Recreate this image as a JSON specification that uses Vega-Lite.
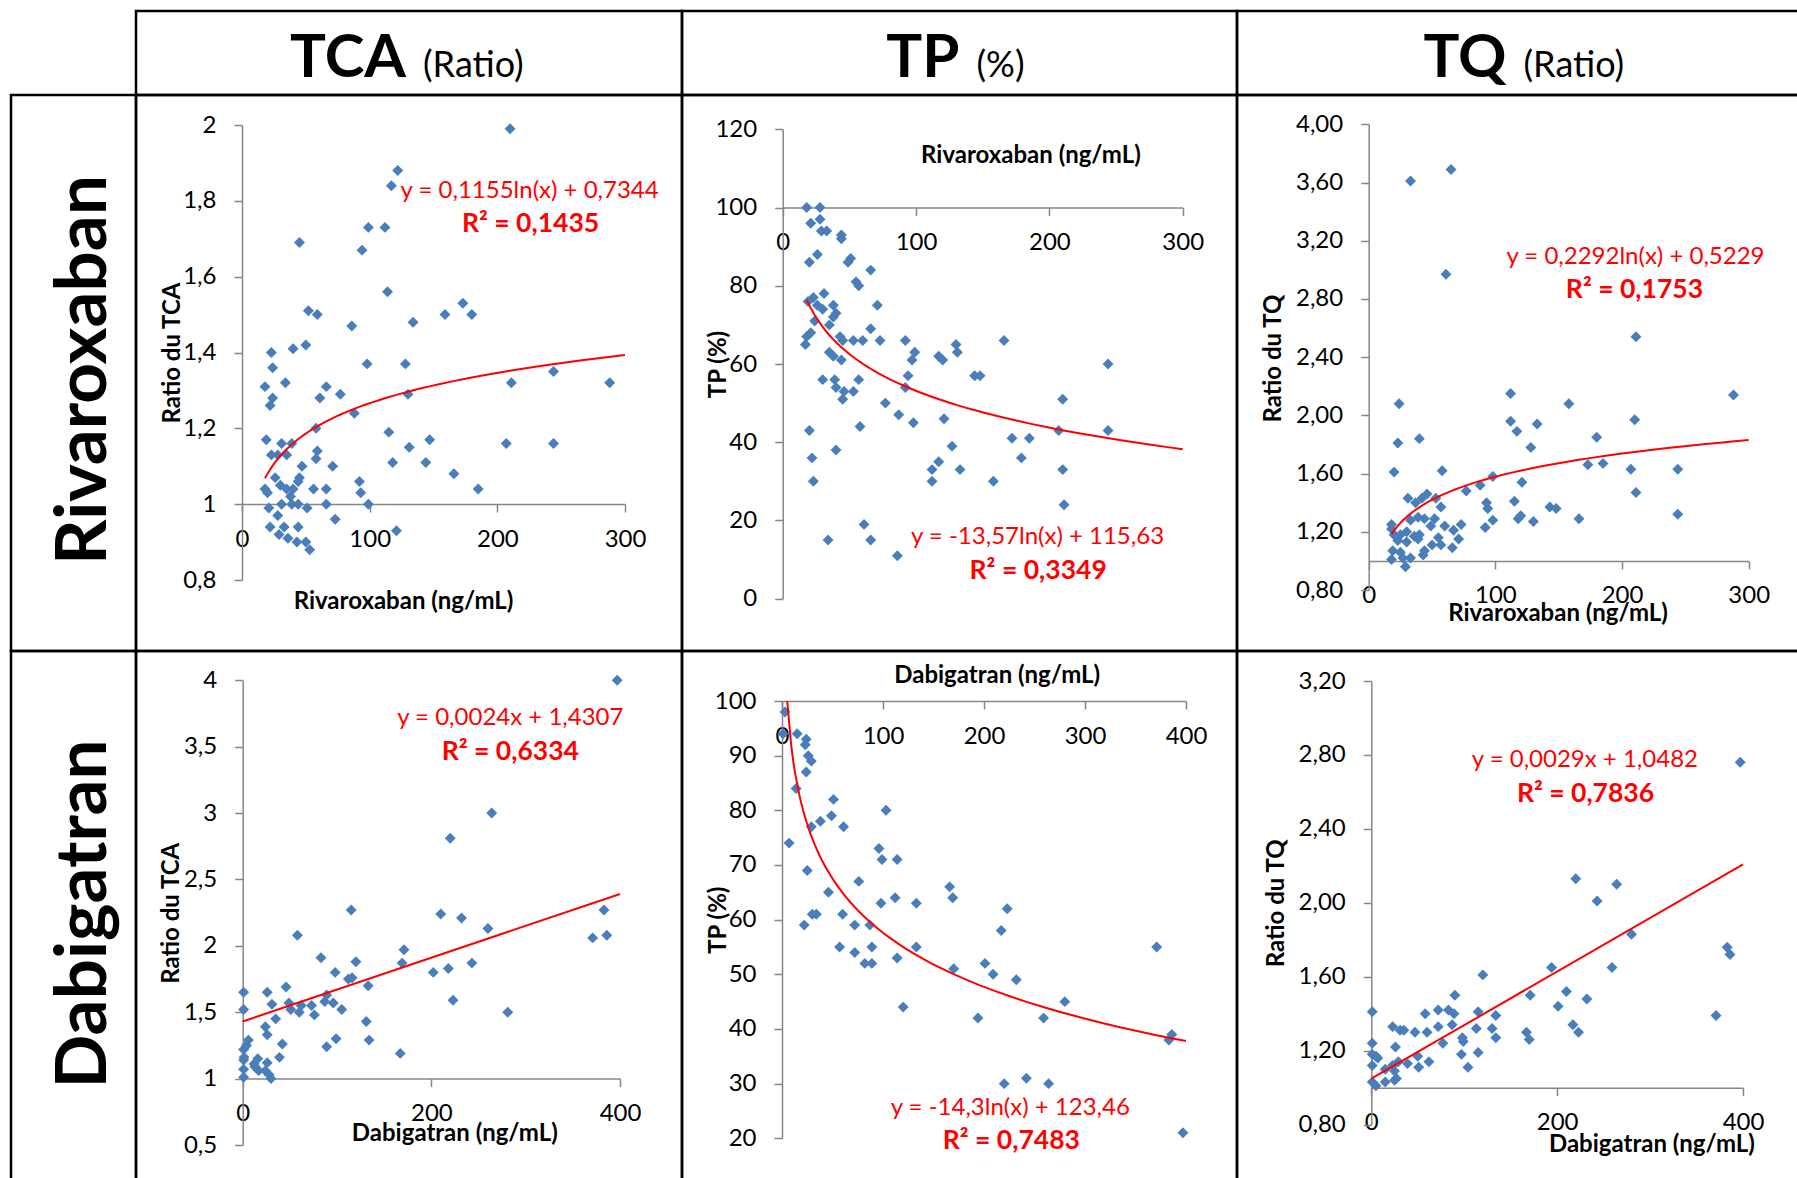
{
  "$schema": "https://vega.github.io/schema/vega-lite/v6.json",
  "background": "white",
  "padding": {"left": 9, "top": 9, "right": 0, "bottom": 0},
  "columns": 4,
  "spacing": 0,
  "bounds": "flush",
  "config": {
    "font": "Lato",
    "view": {"stroke": "#000000", "strokeWidth": 2.5},
    "axis": {
      "grid": false,
      "domainColor": "#868686", "domainWidth": 1.5,
      "tickColor": "#868686", "tickWidth": 1.5, "tickSize": 8,
      "labelFont": "Lato", "labelFontSize": 24, "labelColor": "#000000",
      "labelFlush": false, "labelOverlap": false,
      "titleFont": "Lato", "titleFontSize": 24, "titleFontWeight": "bold", "titleColor": "#000000",
      "titleAlign": "center", "titleBaseline": "middle"
    },
    "axisX": {"labelPadding": 27, "labelBaseline": "middle", "titleAngle": 0},
    "axisY": {"labelPadding": 18, "titleAngle": 270}
  },
  "datasets": {
    "riv_tca": [
      {"conc":210,"value":1.99},{"conc":122,"value":1.88},{"conc":117,"value":1.84},{"conc":99,"value":1.73},{"conc":112,"value":1.73},
      {"conc":45,"value":1.69},{"conc":94,"value":1.67},{"conc":114,"value":1.56},{"conc":173,"value":1.53},{"conc":52,"value":1.51},
      {"conc":59,"value":1.50},{"conc":159,"value":1.50},{"conc":180,"value":1.50},{"conc":86,"value":1.47},{"conc":134,"value":1.48},
      {"conc":40,"value":1.41},{"conc":50,"value":1.42},{"conc":23,"value":1.40},{"conc":24,"value":1.36},{"conc":98,"value":1.37},
      {"conc":128,"value":1.37},{"conc":244,"value":1.35},{"conc":18,"value":1.31},{"conc":34,"value":1.32},{"conc":66,"value":1.31},
      {"conc":77,"value":1.29},{"conc":130,"value":1.29},{"conc":211,"value":1.32},{"conc":288,"value":1.32},{"conc":24,"value":1.28},
      {"conc":22,"value":1.26},{"conc":61,"value":1.28},{"conc":88,"value":1.24},{"conc":58,"value":1.20},{"conc":19,"value":1.17},
      {"conc":31,"value":1.16},{"conc":39,"value":1.16},{"conc":115,"value":1.19},{"conc":147,"value":1.17},{"conc":207,"value":1.16},
      {"conc":244,"value":1.16},{"conc":23,"value":1.13},{"conc":28,"value":1.13},{"conc":35,"value":1.13},{"conc":59,"value":1.14},
      {"conc":58,"value":1.12},{"conc":131,"value":1.15},{"conc":47,"value":1.10},{"conc":71,"value":1.10},{"conc":118,"value":1.11},
      {"conc":144,"value":1.11},{"conc":166,"value":1.08},{"conc":26,"value":1.07},{"conc":45,"value":1.07},{"conc":44,"value":1.06},
      {"conc":92,"value":1.06},{"conc":30,"value":1.05},{"conc":18,"value":1.04},{"conc":20,"value":1.03},{"conc":35,"value":1.04},
      {"conc":40,"value":1.04},{"conc":56,"value":1.04},{"conc":66,"value":1.04},{"conc":185,"value":1.04},{"conc":93,"value":1.03},
      {"conc":38,"value":1.02},{"conc":39,"value":1.00},{"conc":31,"value":1.00},{"conc":44,"value":1.00},{"conc":66,"value":1.00},
      {"conc":99,"value":1.00},{"conc":21,"value":0.99},{"conc":51,"value":0.99},{"conc":28,"value":0.97},{"conc":73,"value":0.96},
      {"conc":22,"value":0.94},{"conc":33,"value":0.94},{"conc":44,"value":0.94},{"conc":29,"value":0.92},{"conc":36,"value":0.91},
      {"conc":43,"value":0.90},{"conc":50,"value":0.90},{"conc":53,"value":0.88},{"conc":121,"value":0.93}
    ],
    "riv_tp": [
      {"conc":18,"value":100},{"conc":28,"value":100},{"conc":21,"value":96},{"conc":28,"value":97},{"conc":29,"value":94},
      {"conc":33,"value":94},{"conc":44,"value":93},{"conc":44,"value":92},{"conc":26,"value":88},{"conc":20,"value":86},
      {"conc":49,"value":86},{"conc":51,"value":87},{"conc":55,"value":81},{"conc":57,"value":80},{"conc":66,"value":84},
      {"conc":71,"value":75},{"conc":31,"value":78},{"conc":23,"value":77},{"conc":19,"value":76},{"conc":26,"value":75},
      {"conc":30,"value":74},{"conc":38,"value":75},{"conc":40,"value":73},{"conc":38,"value":72},{"conc":24,"value":71},
      {"conc":35,"value":70},{"conc":66,"value":69},{"conc":18,"value":67},{"conc":21,"value":68},{"conc":17,"value":65},
      {"conc":43,"value":67},{"conc":45,"value":66},{"conc":53,"value":66},{"conc":60,"value":66},{"conc":73,"value":66},
      {"conc":92,"value":66},{"conc":166,"value":66},{"conc":35,"value":63},{"conc":38,"value":62},{"conc":44,"value":61},
      {"conc":30,"value":56},{"conc":39,"value":56},{"conc":57,"value":56},{"conc":40,"value":54},{"conc":46,"value":53},
      {"conc":53,"value":53},{"conc":45,"value":51},{"conc":77,"value":50},{"conc":87,"value":47},{"conc":98,"value":45},
      {"conc":58,"value":44},{"conc":20,"value":43},{"conc":92,"value":54},{"conc":94,"value":57},{"conc":97,"value":61},
      {"conc":99,"value":63},{"conc":117,"value":62},{"conc":120,"value":61},{"conc":130,"value":65},{"conc":131,"value":63},
      {"conc":144,"value":57},{"conc":148,"value":57},{"conc":121,"value":46},{"conc":127,"value":39},{"conc":112,"value":33},
      {"conc":117,"value":35},{"conc":112,"value":30},{"conc":133,"value":33},{"conc":158,"value":30},{"conc":172,"value":41},
      {"conc":185,"value":41},{"conc":179,"value":36},{"conc":207,"value":43},{"conc":210,"value":51},{"conc":210,"value":33},
      {"conc":211,"value":24},{"conc":244,"value":60},{"conc":244,"value":43},{"conc":22,"value":36},{"conc":23,"value":30},
      {"conc":40,"value":38},{"conc":34,"value":15},{"conc":61,"value":19},{"conc":66,"value":15},{"conc":86,"value":11}
    ],
    "riv_tq": [
      {"conc":33,"value":3.61},{"conc":65,"value":3.69},{"conc":61,"value":2.97},{"conc":211,"value":2.54},{"conc":112,"value":2.15},
      {"conc":288,"value":2.14},{"conc":158,"value":2.08},{"conc":24,"value":2.08},{"conc":112,"value":1.96},{"conc":210,"value":1.97},
      {"conc":117,"value":1.89},{"conc":133,"value":1.94},{"conc":40,"value":1.84},{"conc":23,"value":1.81},{"conc":180,"value":1.85},
      {"conc":128,"value":1.78},{"conc":173,"value":1.66},{"conc":185,"value":1.67},{"conc":207,"value":1.63},{"conc":244,"value":1.63},
      {"conc":20,"value":1.61},{"conc":58,"value":1.62},{"conc":98,"value":1.58},{"conc":121,"value":1.54},{"conc":88,"value":1.52},
      {"conc":77,"value":1.48},{"conc":211,"value":1.47},{"conc":115,"value":1.41},{"conc":93,"value":1.40},{"conc":94,"value":1.36},
      {"conc":143,"value":1.37},{"conc":148,"value":1.36},{"conc":166,"value":1.29},{"conc":244,"value":1.32},{"conc":130,"value":1.27},
      {"conc":120,"value":1.31},{"conc":118,"value":1.29},{"conc":98,"value":1.28},{"conc":92,"value":1.23},{"conc":31,"value":1.43},
      {"conc":37,"value":1.40},{"conc":42,"value":1.43},{"conc":46,"value":1.46},{"conc":53,"value":1.43},{"conc":57,"value":1.37},
      {"conc":33,"value":1.28},{"conc":39,"value":1.30},{"conc":44,"value":1.29},{"conc":52,"value":1.29},{"conc":49,"value":1.24},
      {"conc":60,"value":1.24},{"conc":73,"value":1.25},{"conc":18,"value":1.25},{"conc":20,"value":1.18},{"conc":25,"value":1.18},
      {"conc":30,"value":1.20},{"conc":36,"value":1.17},{"conc":40,"value":1.18},{"conc":67,"value":1.21},{"conc":71,"value":1.15},
      {"conc":55,"value":1.16},{"conc":23,"value":1.14},{"conc":30,"value":1.13},{"conc":39,"value":1.15},{"conc":50,"value":1.11},
      {"conc":57,"value":1.11},{"conc":19,"value":1.07},{"conc":25,"value":1.06},{"conc":44,"value":1.07},{"conc":66,"value":1.09},
      {"conc":18,"value":1.01},{"conc":27,"value":1.02},{"conc":33,"value":1.02},{"conc":43,"value":1.04},{"conc":29,"value":0.96},
      {"conc":18,"value":1.22}
    ],
    "dab_tca": [
      {"conc":397,"value":4.00},{"conc":264,"value":3.00},{"conc":220,"value":2.81},{"conc":115,"value":2.27},{"conc":210,"value":2.24},
      {"conc":232,"value":2.21},{"conc":260,"value":2.13},{"conc":383,"value":2.27},{"conc":371,"value":2.06},{"conc":386,"value":2.08},
      {"conc":58,"value":2.08},{"conc":83,"value":1.91},{"conc":171,"value":1.97},{"conc":120,"value":1.88},{"conc":169,"value":1.87},
      {"conc":243,"value":1.87},{"conc":98,"value":1.80},{"conc":202,"value":1.80},{"conc":218,"value":1.83},{"conc":112,"value":1.75},
      {"conc":116,"value":1.76},{"conc":133,"value":1.70},{"conc":46,"value":1.69},{"conc":1,"value":1.65},{"conc":26,"value":1.65},
      {"conc":89,"value":1.63},{"conc":49,"value":1.57},{"conc":31,"value":1.56},{"conc":62,"value":1.55},{"conc":87,"value":1.58},
      {"conc":96,"value":1.57},{"conc":73,"value":1.55},{"conc":1,"value":1.52},{"conc":51,"value":1.52},{"conc":60,"value":1.50},
      {"conc":76,"value":1.48},{"conc":105,"value":1.52},{"conc":223,"value":1.59},{"conc":281,"value":1.50},{"conc":35,"value":1.45},
      {"conc":131,"value":1.43},{"conc":24,"value":1.39},{"conc":26,"value":1.33},{"conc":6,"value":1.29},{"conc":99,"value":1.30},
      {"conc":134,"value":1.29},{"conc":42,"value":1.26},{"conc":89,"value":1.24},{"conc":167,"value":1.19},{"conc":1,"value":1.22},
      {"conc":4,"value":1.25},{"conc":1.5,"value":1.16},{"conc":1,"value":1.14},{"conc":39,"value":1.16},{"conc":16,"value":1.15},
      {"conc":13,"value":1.09},{"conc":26,"value":1.12},{"conc":1,"value":1.07},{"conc":17,"value":1.06},{"conc":24,"value":1.06},
      {"conc":30,"value":1.00},{"conc":1,"value":1.01},{"conc":28,"value":1.03},{"conc":12,"value":1.11}
    ],
    "dab_tp": [
      {"conc":3,"value":98},{"conc":1,"value":94},{"conc":15,"value":94},{"conc":24,"value":93},{"conc":23,"value":92},
      {"conc":26,"value":90},{"conc":29,"value":89},{"conc":24,"value":87},{"conc":14,"value":84},{"conc":51,"value":82},
      {"conc":103,"value":80},{"conc":49,"value":79},{"conc":38,"value":78},{"conc":29,"value":77},{"conc":61,"value":77},
      {"conc":7,"value":74},{"conc":96,"value":73},{"conc":99,"value":71},{"conc":114,"value":71},{"conc":25,"value":69},
      {"conc":76,"value":67},{"conc":166,"value":66},{"conc":46,"value":65},{"conc":112,"value":64},{"conc":169,"value":64},
      {"conc":98,"value":63},{"conc":133,"value":63},{"conc":223,"value":62},{"conc":30,"value":61},{"conc":34,"value":61},
      {"conc":60,"value":61},{"conc":22,"value":59},{"conc":72,"value":59},{"conc":87,"value":59},{"conc":217,"value":58},
      {"conc":57,"value":55},{"conc":89,"value":55},{"conc":133,"value":55},{"conc":371,"value":55},{"conc":72,"value":54},
      {"conc":114,"value":53},{"conc":82,"value":52},{"conc":89,"value":52},{"conc":201,"value":52},{"conc":170,"value":51},
      {"conc":209,"value":50},{"conc":232,"value":49},{"conc":120,"value":44},{"conc":280,"value":45},{"conc":194,"value":42},
      {"conc":259,"value":42},{"conc":386,"value":39},{"conc":383,"value":38},{"conc":220,"value":30},{"conc":242,"value":31},
      {"conc":264,"value":30},{"conc":397,"value":21}
    ],
    "dab_tq": [
      {"conc":397,"value":2.76},{"conc":220,"value":2.13},{"conc":264,"value":2.10},{"conc":243,"value":2.01},{"conc":280,"value":1.83},
      {"conc":383,"value":1.76},{"conc":386,"value":1.72},{"conc":371,"value":1.39},{"conc":194,"value":1.65},{"conc":259,"value":1.65},
      {"conc":120,"value":1.61},{"conc":210,"value":1.52},{"conc":171,"value":1.50},{"conc":232,"value":1.48},{"conc":201,"value":1.44},
      {"conc":90,"value":1.50},{"conc":1,"value":1.41},{"conc":58,"value":1.40},{"conc":72,"value":1.42},{"conc":83,"value":1.42},
      {"conc":89,"value":1.40},{"conc":115,"value":1.41},{"conc":134,"value":1.39},{"conc":217,"value":1.34},{"conc":223,"value":1.30},
      {"conc":23,"value":1.33},{"conc":31,"value":1.31},{"conc":35,"value":1.31},{"conc":47,"value":1.30},{"conc":60,"value":1.30},
      {"conc":72,"value":1.33},{"conc":87,"value":1.34},{"conc":113,"value":1.32},{"conc":130,"value":1.32},{"conc":134,"value":1.27},
      {"conc":167,"value":1.30},{"conc":170,"value":1.26},{"conc":98,"value":1.27},{"conc":99,"value":1.25},{"conc":77,"value":1.24},
      {"conc":1,"value":1.24},{"conc":26,"value":1.22},{"conc":1,"value":1.18},{"conc":7,"value":1.16},{"conc":1,"value":1.12},
      {"conc":50,"value":1.17},{"conc":62,"value":1.14},{"conc":97,"value":1.18},{"conc":115,"value":1.19},{"conc":104,"value":1.11},
      {"conc":29,"value":1.14},{"conc":39,"value":1.13},{"conc":51,"value":1.11},{"conc":15,"value":1.10},{"conc":25,"value":1.09},
      {"conc":1,"value":1.03},{"conc":5,"value":1.01},{"conc":15,"value":1.03},{"conc":25,"value":1.04},{"conc":27,"value":1.05},
      {"conc":5,"value":1.17},{"conc":23,"value":1.12}
    ],
    "riv_tca_fit": [{"conc": 18, "value": 1.068238}, {"conc": 300, "value": 1.393187}],
    "riv_tp_fit": [{"conc": 18, "value": 76.40765}, {"conc": 300, "value": 38.22968}],
    "riv_tq_fit": [{"conc": 18, "value": 1.185373}, {"conc": 300, "value": 1.830207}],
    "dab_tca_fit": [{"conc": 0, "value": 1.4307}, {"conc": 400, "value": 2.3907}],
    "dab_tp_fit": [{"conc": 5.1581, "value": 100.0}, {"conc": 400, "value": 37.78205}],
    "dab_tq_fit": [{"conc": 0, "value": 1.0482}, {"conc": 400, "value": 2.2082}]
  },
  "concat": [
    {
      "width": 125, "height": 84,
      "view": {"stroke": null},
      "data": {"values": [{"blank": ""}]},
      "mark": {"type": "text"},
      "encoding": {"text": {"field": "blank"}}
    },
    {
      "width": 546, "height": 84,
      "view": {"style": "cell", "stroke": "#000000", "strokeWidth": 2.5},
      "data": {"values": [{"metric": "TCA", "unit": "(Ratio)"}]},
      "layer": [
        {"mark": {"type": "text", "font": "Lato", "fontWeight": "bold", "fontSize": 60, "align": "right", "baseline": "alphabetic", "dx": -3, "dy": 24, "color": "#000000"},
         "encoding": {"text": {"field": "metric"}}},
        {"mark": {"type": "text", "font": "Lato", "fontSize": 36, "align": "left", "baseline": "alphabetic", "dx": 14, "dy": 24, "color": "#000000"},
         "encoding": {"text": {"field": "unit"}}}
      ]
    },
    {
      "width": 555, "height": 84,
      "view": {"style": "cell", "stroke": "#000000", "strokeWidth": 2.5},
      "data": {"values": [{"metric": "TP", "unit": "(%)"}]},
      "layer": [
        {"mark": {"type": "text", "font": "Lato", "fontWeight": "bold", "fontSize": 60, "align": "right", "baseline": "alphabetic", "dx": 0, "dy": 24, "color": "#000000"},
         "encoding": {"text": {"field": "metric"}}},
        {"mark": {"type": "text", "font": "Lato", "fontSize": 36, "align": "left", "baseline": "alphabetic", "dx": 17, "dy": 24, "color": "#000000"},
         "encoding": {"text": {"field": "unit"}}}
      ]
    },
    {
      "width": 573, "height": 84,
      "view": {"style": "cell", "stroke": "#000000", "strokeWidth": 2.5},
      "data": {"values": [{"metric": "TQ", "unit": "(Ratio)"}]},
      "layer": [
        {"mark": {"type": "text", "font": "Lato", "fontWeight": "bold", "fontSize": 60, "align": "right", "baseline": "alphabetic", "dx": -17, "dy": 24, "color": "#000000"},
         "encoding": {"text": {"field": "metric"}}},
        {"mark": {"type": "text", "font": "Lato", "fontSize": 36, "align": "left", "baseline": "alphabetic", "dx": 0, "dy": 24, "color": "#000000"},
         "encoding": {"text": {"field": "unit"}}}
      ]
    },
    {
      "width": 125, "height": 556,
      "view": {"style": "cell", "stroke": "#000000", "strokeWidth": 2.5},
      "data": {"values": [{"drug": "Rivaroxaban"}]},
      "mark": {"type": "text", "font": "Lato", "fontWeight": "bold", "fontSize": 71, "angle": 270, "align": "center", "baseline": "middle", "dx": 3, "dy": 11, "color": "#000000"},
      "encoding": {"text": {"field": "drug"}}
    },
    {
      "width": 546, "height": 556,
      "layer": [
        {"data": {"name": "riv_tca"},
         "mark": {"type": "point", "shape": "diamond", "filled": true, "size": 120, "color": "#4A7EBB", "opacity": 1},
         "encoding": {
           "x": {"field": "conc", "type": "quantitative",
                 "scale": {"domain": [0, 300], "range": [106, 489], "nice": false, "zero": false},
                 "axis": {"title": "Rivaroxaban (ng/mL)", "values": [0, 100, 200, 300], "format": "d", "offset": -147, "titleX": 267, "titleY": 97}},
           "y": {"field": "value", "type": "quantitative",
                 "scale": {"domain": [0.8, 2], "range": [485, 30], "nice": false, "zero": false},
                 "axis": {"title": "Ratio du TCA", "values": [0.8, 1, 1.2, 1.4, 1.6, 1.8, 2], "labelExpr": "replace(format(datum.value, '.1~f'), '.', ',')", "offset": -106, "titleX": -70, "titleY": 257.5}}
         }},
        {"data": {"name": "riv_tca_fit"},
         "transform": [{"regression": "value", "on": "conc", "method": "log", "extent": [18, 300]}],
         "mark": {"type": "line", "color": "#FF0000", "strokeWidth": 2},
         "encoding": {"x": {"field": "conc", "type": "quantitative"}, "y": {"field": "value", "type": "quantitative"}}},
        {"data": {"values": [{"eq": "y = 0,1155ln(x) + 0,7344", "r2": "R² = 0,1435"}]},
         "mark": {"type": "text", "font": "Lato", "fontSize": 24, "color": "#FF0000", "align": "center", "baseline": "middle"},
         "encoding": {"x": {"datum": 225.3, "type": "quantitative"}, "y": {"datum": 1.827, "type": "quantitative"}, "text": {"field": "eq"}}},
        {"data": {"values": [{"eq": "y = 0,1155ln(x) + 0,7344", "r2": "R² = 0,1435"}]},
         "mark": {"type": "text", "font": "Lato", "fontSize": 26.5, "fontWeight": "bold", "color": "#FF0000", "align": "center", "baseline": "middle"},
         "encoding": {"x": {"datum": 226, "type": "quantitative"}, "y": {"datum": 1.739, "type": "quantitative"}, "text": {"field": "r2"}}}
      ]
    },
    {
      "width": 555, "height": 556,
      "layer": [
        {"data": {"name": "riv_tp"},
         "mark": {"type": "point", "shape": "diamond", "filled": true, "size": 120, "color": "#4A7EBB", "opacity": 1},
         "encoding": {
           "x": {"field": "conc", "type": "quantitative",
                 "scale": {"domain": [0, 300], "range": [100.7, 500.7], "nice": false, "zero": false},
                 "axis": {"title": "Rivaroxaban (ng/mL)", "values": [0, 100, 200, 300], "format": "d", "offset": -443.5, "titleX": 348.4, "titleY": -52.3}},
           "y": {"field": "value", "type": "quantitative",
                 "scale": {"domain": [0, 120], "range": [503.7, 34.3], "nice": false, "zero": false},
                 "axis": {"title": "TP (%)", "values": [0, 20, 40, 60, 80, 100, 120], "format": "d", "offset": -100.7, "titleX": -64.5, "titleY": 269}}
         }},
        {"data": {"name": "riv_tp_fit"},
         "transform": [{"regression": "value", "on": "conc", "method": "log", "extent": [18, 300]}],
         "mark": {"type": "line", "color": "#FF0000", "strokeWidth": 2},
         "encoding": {"x": {"field": "conc", "type": "quantitative"}, "y": {"field": "value", "type": "quantitative"}}},
        {"data": {"values": [{"eq": "y = -13,57ln(x) + 115,63", "r2": "R² = 0,3349"}]},
         "mark": {"type": "text", "font": "Lato", "fontSize": 24, "color": "#FF0000", "align": "center", "baseline": "middle"},
         "encoding": {"x": {"datum": 191.1, "type": "quantitative"}, "y": {"datum": 15.8, "type": "quantitative"}, "text": {"field": "eq"}}},
        {"data": {"values": [{"eq": "y = -13,57ln(x) + 115,63", "r2": "R² = 0,3349"}]},
         "mark": {"type": "text", "font": "Lato", "fontSize": 26.5, "fontWeight": "bold", "color": "#FF0000", "align": "center", "baseline": "middle"},
         "encoding": {"x": {"datum": 191.6, "type": "quantitative"}, "y": {"datum": 7.06, "type": "quantitative"}, "text": {"field": "r2"}}}
      ]
    },
    {
      "width": 573, "height": 556,
      "layer": [
        {"data": {"name": "riv_tq"},
         "mark": {"type": "point", "shape": "diamond", "filled": true, "size": 120, "color": "#4A7EBB", "opacity": 1},
         "encoding": {
           "x": {"field": "conc", "type": "quantitative",
                 "scale": {"domain": [0, 300], "range": [131.7, 511.7], "nice": false, "zero": false},
                 "axis": {"title": "Rivaroxaban (ng/mL)", "values": [0, 100, 200, 300], "format": "d", "offset": -90.1, "titleX": 320.5, "titleY": 53}},
           "y": {"field": "value", "type": "quantitative",
                 "scale": {"domain": [0.8, 4], "range": [495, 29.3], "nice": false, "zero": false},
                 "axis": {"title": "Ratio du TQ", "values": [0.8, 1.2, 1.6, 2, 2.4, 2.8, 3.2, 3.6, 4], "labelExpr": "replace(format(datum.value, '.2f'), '.', ',')", "offset": -131.7, "titleX": -95, "titleY": 263}}
         }},
        {"data": {"name": "riv_tq_fit"},
         "transform": [{"regression": "value", "on": "conc", "method": "log", "extent": [18, 300]}],
         "mark": {"type": "line", "color": "#FF0000", "strokeWidth": 2},
         "encoding": {"x": {"field": "conc", "type": "quantitative"}, "y": {"field": "value", "type": "quantitative"}}},
        {"data": {"values": [{"eq": "y = 0,2292ln(x) + 0,5229", "r2": "R² = 0,1753"}]},
         "mark": {"type": "text", "font": "Lato", "fontSize": 24, "color": "#FF0000", "align": "center", "baseline": "middle"},
         "encoding": {"x": {"datum": 210.6, "type": "quantitative"}, "y": {"datum": 3.091, "type": "quantitative"}, "text": {"field": "eq"}}},
        {"data": {"values": [{"eq": "y = 0,2292ln(x) + 0,5229", "r2": "R² = 0,1753"}]},
         "mark": {"type": "text", "font": "Lato", "fontSize": 26.5, "fontWeight": "bold", "color": "#FF0000", "align": "center", "baseline": "middle"},
         "encoding": {"x": {"datum": 209.8, "type": "quantitative"}, "y": {"datum": 2.862, "type": "quantitative"}, "text": {"field": "r2"}}}
      ]
    },
    {
      "width": 125, "height": 540,
      "view": {"style": "cell", "stroke": "#000000", "strokeWidth": 2.5},
      "data": {"values": [{"drug": "Dabigatran"}]},
      "mark": {"type": "text", "font": "Lato", "fontWeight": "bold", "fontSize": 71, "angle": 270, "align": "center", "baseline": "middle", "dx": 7, "dy": 11, "color": "#000000"},
      "encoding": {"text": {"field": "drug"}}
    },
    {
      "width": 546, "height": 540,
      "layer": [
        {"data": {"name": "dab_tca"},
         "mark": {"type": "point", "shape": "diamond", "filled": true, "size": 120, "color": "#4A7EBB", "opacity": 1},
         "encoding": {
           "x": {"field": "conc", "type": "quantitative",
                 "scale": {"domain": [0, 400], "range": [106.7, 484], "nice": false, "zero": false},
                 "axis": {"title": "Dabigatran (ng/mL)", "values": [0, 200, 400], "format": "d", "offset": -112.4, "titleX": 318.3, "titleY": 54.7}},
           "y": {"field": "value", "type": "quantitative",
                 "scale": {"domain": [0.5, 4], "range": [494, 29.3], "nice": false, "zero": false},
                 "axis": {"title": "Ratio du TCA", "values": [0.5, 1, 1.5, 2, 2.5, 3, 3.5, 4], "labelExpr": "replace(format(datum.value, '.1~f'), '.', ',')", "offset": -106.7, "titleX": -71.7, "titleY": 261.7}}
         }},
        {"data": {"name": "dab_tca_fit"},
         "mark": {"type": "line", "color": "#FF0000", "strokeWidth": 2},
         "encoding": {"x": {"field": "conc", "type": "quantitative"}, "y": {"field": "value", "type": "quantitative"}}},
        {"data": {"values": [{"eq": "y = 0,0024x + 1,4307", "r2": "R² = 0,6334"}]},
         "mark": {"type": "text", "font": "Lato", "fontSize": 24, "color": "#FF0000", "align": "center", "baseline": "middle"},
         "encoding": {"x": {"datum": 283.7, "type": "quantitative"}, "y": {"datum": 3.718, "type": "quantitative"}, "text": {"field": "eq"}}},
        {"data": {"values": [{"eq": "y = 0,0024x + 1,4307", "r2": "R² = 0,6334"}]},
         "mark": {"type": "text", "font": "Lato", "fontSize": 26.5, "fontWeight": "bold", "color": "#FF0000", "align": "center", "baseline": "middle"},
         "encoding": {"x": {"datum": 283.7, "type": "quantitative"}, "y": {"datum": 3.462, "type": "quantitative"}, "text": {"field": "r2"}}}
      ]
    },
    {
      "width": 555, "height": 540,
      "layer": [
        {"data": {"name": "dab_tp"},
         "mark": {"type": "point", "shape": "diamond", "filled": true, "size": 120, "color": "#4A7EBB", "opacity": 1},
         "encoding": {
           "x": {"field": "conc", "type": "quantitative",
                 "scale": {"domain": [0, 400], "range": [100, 504], "nice": false, "zero": false},
                 "axis": {"title": "Dabigatran (ng/mL)", "values": [0, 100, 200, 300, 400], "format": "d", "offset": -490, "titleX": 314.7, "titleY": -26}},
           "y": {"field": "value", "type": "quantitative",
                 "scale": {"domain": [20, 100], "range": [487.3, 50], "nice": false, "zero": false},
                 "axis": {"title": "TP (%)", "values": [20, 30, 40, 50, 60, 70, 80, 90, 100], "format": "d", "offset": -100, "titleX": -63.3, "titleY": 268.7}}
         }},
        {"data": {"name": "dab_tp_fit"},
         "transform": [{"regression": "value", "on": "conc", "method": "log", "extent": [5.1581, 400]}],
         "mark": {"type": "line", "color": "#FF0000", "strokeWidth": 2},
         "encoding": {"x": {"field": "conc", "type": "quantitative"}, "y": {"field": "value", "type": "quantitative"}}},
        {"data": {"values": [{"eq": "y = -14,3ln(x) + 123,46", "r2": "R² = 0,7483"}]},
         "mark": {"type": "text", "font": "Lato", "fontSize": 24, "color": "#FF0000", "align": "center", "baseline": "middle"},
         "encoding": {"x": {"datum": 226, "type": "quantitative"}, "y": {"datum": 25.49, "type": "quantitative"}, "text": {"field": "eq"}}},
        {"data": {"values": [{"eq": "y = -14,3ln(x) + 123,46", "r2": "R² = 0,7483"}]},
         "mark": {"type": "text", "font": "Lato", "fontSize": 26.5, "fontWeight": "bold", "color": "#FF0000", "align": "center", "baseline": "middle"},
         "encoding": {"x": {"datum": 227, "type": "quantitative"}, "y": {"datum": 19.5, "type": "quantitative"}, "text": {"field": "r2"}}}
      ]
    },
    {
      "width": 573, "height": 540,
      "layer": [
        {"data": {"name": "dab_tq"},
         "mark": {"type": "point", "shape": "diamond", "filled": true, "size": 120, "color": "#4A7EBB", "opacity": 1},
         "encoding": {
           "x": {"field": "conc", "type": "quantitative",
                 "scale": {"domain": [0, 400], "range": [134.3, 506], "nice": false, "zero": false},
                 "axis": {"title": "Dabigatran (ng/mL)", "values": [0, 200, 400], "format": "d", "offset": -103.3, "titleX": 414.4, "titleY": 56.6}},
           "y": {"field": "value", "type": "quantitative",
                 "scale": {"domain": [0.8, 3.2], "range": [473.6, 30], "nice": false, "zero": false},
                 "axis": {"title": "Ratio du TQ", "values": [0.8, 1.2, 1.6, 2, 2.4, 2.8, 3.2], "labelExpr": "replace(format(datum.value, '.2f'), '.', ',')", "offset": -134.3, "titleX": -95, "titleY": 251.8}}
         }},
        {"data": {"name": "dab_tq_fit"},
         "mark": {"type": "line", "color": "#FF0000", "strokeWidth": 2},
         "encoding": {"x": {"field": "conc", "type": "quantitative"}, "y": {"field": "value", "type": "quantitative"}}},
        {"data": {"values": [{"eq": "y = 0,0029x + 1,0482", "r2": "R² = 0,7836"}]},
         "mark": {"type": "text", "font": "Lato", "fontSize": 24, "color": "#FF0000", "align": "center", "baseline": "middle"},
         "encoding": {"x": {"datum": 229.8, "type": "quantitative"}, "y": {"datum": 2.771, "type": "quantitative"}, "text": {"field": "eq"}}},
        {"data": {"values": [{"eq": "y = 0,0029x + 1,0482", "r2": "R² = 0,7836"}]},
         "mark": {"type": "text", "font": "Lato", "fontSize": 26.5, "fontWeight": "bold", "color": "#FF0000", "align": "center", "baseline": "middle"},
         "encoding": {"x": {"datum": 230.5, "type": "quantitative"}, "y": {"datum": 2.591, "type": "quantitative"}, "text": {"field": "r2"}}}
      ]
    }
  ]
}
